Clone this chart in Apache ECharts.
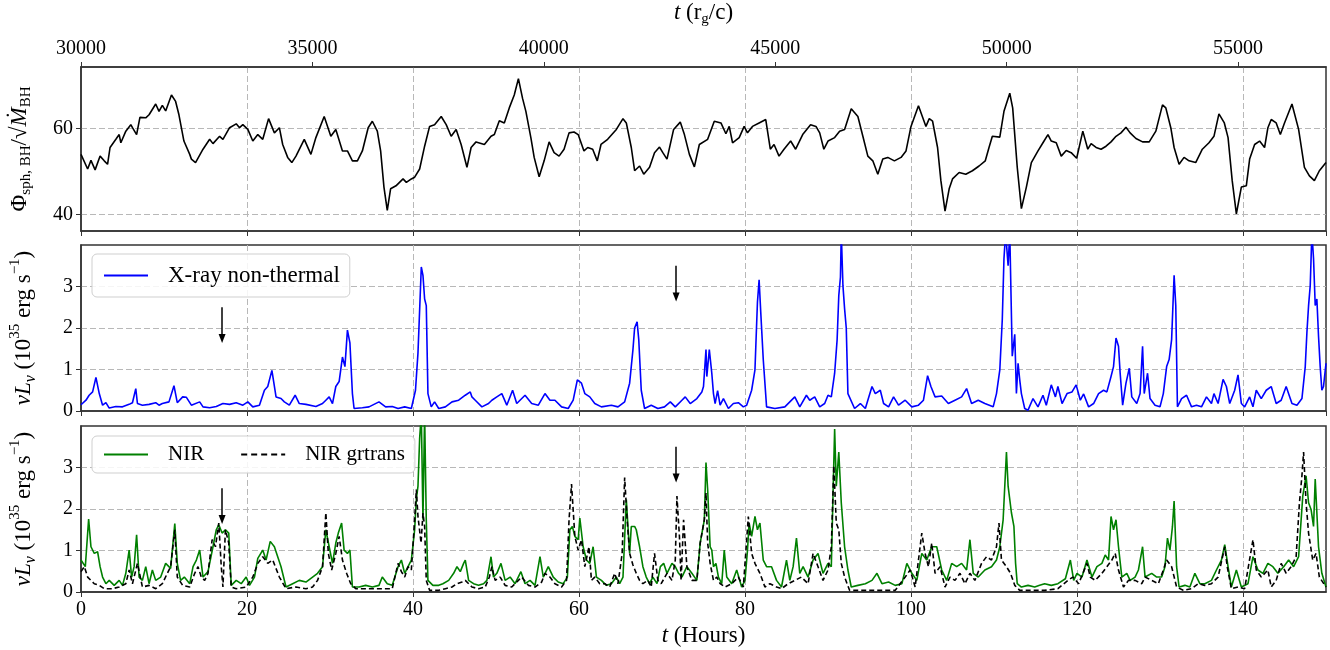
<!DOCTYPE html>
<html><head><meta charset="utf-8">
<script src="https://cdn.jsdelivr.net/npm/echarts@6/dist/echarts.min.js"></script>
<style>html,body{margin:0;padding:0;background:#fff}#c{width:1330px;height:650px}</style>
</head><body><div id="c"></div>
<script>
// ---- data (hours, values) ----
const hourRange = [0, 150];
const hourTicks = 20;
const tStart = 30000;          // r_g/c at hour 0
const tEnd = 56900;            // r_g/c at hour 150
const tTicks = 5000;
const phiLabelTicks = [40, 60];
const phiRange = [36.2, 74.3];
const lumRange = [0, 4];

const phi = [[0,54.0],[0.8,50.6],[1.2,52.6],[1.7,50.4],[2.3,53.6],[2.8,52.5],[3.2,51.7],[3.5,55.6],[4.2,57.5],[4.6,58.6],[4.8,56.7],[5.4,59.4],[6.0,60.9],[6.2,60.2],[6.7,58.6],[7.1,62.6],[7.8,62.5],[8.2,63.2],[9.0,65.7],[9.4,64.0],[9.8,65.4],[10.2,64.1],[10.9,67.8],[11.4,66.3],[11.8,63.2],[12.4,57.1],[13.1,54.0],[13.3,52.9],[13.8,52.1],[14.7,55.2],[15.5,57.5],[15.9,56.5],[16.7,58.2],[17.1,57.5],[17.9,60.2],[18.7,61.1],[19.1,60.2],[19.5,60.9],[20.1,59.8],[20.7,57.1],[21.3,58.6],[21.9,57.5],[22.6,62.3],[23.3,59.0],[23.9,60.2],[24.3,56.3],[24.9,53.3],[25.4,52.1],[25.9,53.6],[26.9,57.5],[27.7,54.0],[28.3,57.9],[29.3,62.8],[30.1,58.2],[30.7,59.8],[31.5,54.8],[32.1,54.8],[32.7,52.5],[33.3,52.5],[33.9,54.8],[34.6,60.2],[35.1,61.7],[35.7,59.4],[36.1,54.8],[36.5,46.4],[36.9,41.0],[37.3,46.0],[37.95,46.7],[38.8,48.3],[39.2,47.5],[39.8,48.3],[40.2,48.7],[40.8,50.6],[41.4,55.9],[42.0,60.5],[42.6,60.9],[43.4,62.8],[44.0,60.9],[44.6,58.2],[45.2,59.8],[45.8,56.3],[46.5,51.0],[47.0,55.6],[47.6,56.9],[48.6,56.3],[49.4,58.2],[49.8,58.6],[50.4,61.8],[51.0,61.3],[51.6,64.8],[52.2,67.8],[52.7,71.6],[53.2,67.0],[53.6,64.0],[54.2,57.9],[54.6,53.3],[55.2,48.8],[55.8,52.5],[56.4,56.9],[57.0,54.4],[57.6,53.6],[58.2,55.2],[58.8,59.0],[59.4,59.2],[59.9,58.6],[60.6,54.8],[61.05,55.6],[61.65,55.2],[62.2,52.5],[62.65,56.3],[63.45,57.5],[64.5,59.8],[65.3,62.3],[65.7,61.3],[66.3,55.6],[66.7,50.2],[67.3,51.3],[67.8,49.4],[68.5,51.0],[69.1,54.4],[69.7,55.7],[70.1,54.4],[70.6,52.9],[71.4,59.8],[72.2,61.5],[72.7,58.6],[73.3,54.0],[73.9,51.1],[74.5,56.3],[75.5,57.5],[76.3,61.7],[77.1,61.3],[77.7,58.8],[78.1,60.5],[78.5,56.7],[79.3,57.9],[79.9,60.5],[80.3,59.0],[80.9,60.5],[81.7,61.3],[82.5,62.1],[83.05,55.2],[83.5,56.3],[84.1,53.6],[84.7,55.2],[85.5,57.1],[86.1,55.2],[86.95,58.6],[87.9,60.9],[88.55,60.5],[89.0,59.0],[89.5,55.2],[90.0,57.1],[90.8,57.9],[91.4,59.4],[92.0,59.8],[92.8,64.6],[93.6,62.8],[94.2,58.2],[94.8,53.6],[95.4,52.5],[96.0,49.4],[96.6,52.9],[97.2,53.3],[98.0,52.5],[98.8,53.3],[99.4,54.8],[100.0,60.5],[100.9,65.3],[101.8,60.5],[102.2,62.3],[102.6,61.7],[103.2,55.6],[103.6,47.9],[104.1,40.8],[104.6,46.0],[105.0,48.3],[105.8,49.8],[106.6,49.4],[107.4,50.2],[108.2,51.3],[108.95,52.5],[109.4,55.6],[109.8,58.2],[110.7,58.0],[111.2,64.0],[111.9,68.2],[112.25,64.8],[112.8,51.0],[113.3,41.4],[113.9,46.4],[114.5,52.1],[115.3,54.8],[115.9,56.7],[116.5,58.6],[116.9,57.1],[117.5,56.7],[118.1,53.6],[118.7,54.9],[119.3,54.4],[119.96,53.1],[120.7,59.4],[121.3,55.2],[121.7,56.5],[122.3,55.6],[122.9,55.2],[123.5,55.9],[124.1,56.9],[124.7,58.2],[125.3,59.0],[125.9,60.3],[126.4,59.0],[127.1,57.7],[127.9,56.9],[128.7,56.9],[129.5,59.4],[130.3,65.5],[130.7,64.8],[131.3,60.2],[131.7,55.6],[132.3,51.7],[132.9,53.3],[133.5,52.5],[134.3,52.1],[135.1,55.2],[135.9,56.7],[136.5,58.2],[137.1,63.4],[137.75,61.3],[138.2,57.9],[138.7,47.9],[139.2,40.2],[139.8,46.4],[140.4,46.7],[140.8,52.9],[141.4,56.3],[142.0,57.1],[142.6,55.6],[143.0,60.2],[143.4,62.1],[144.0,61.3],[144.5,58.6],[145.0,61.3],[145.9,65.7],[146.7,59.8],[147.4,51.0],[148.0,49.0],[148.6,47.9],[149.2,50.2],[150,52.1]];

const xray = [[0,0.15],[0.2,0.14],[0.6,0.26],[0.98,0.38],[1.4,0.46],[1.8,0.81],[2.2,0.42],[2.6,0.14],[3.0,0.20],[3.4,0.07],[4.2,0.11],[5.0,0.10],[5.8,0.16],[6.2,0.20],[6.6,0.54],[6.8,0.18],[7.4,0.14],[8.2,0.16],[9.0,0.20],[9.4,0.14],[9.8,0.18],[10.6,0.22],[11.2,0.61],[11.6,0.20],[12.25,0.34],[12.7,0.33],[13.3,0.14],[14.3,0.22],[14.7,0.10],[15.5,0.08],[16.3,0.11],[17.1,0.18],[17.9,0.16],[18.7,0.20],[19.5,0.14],[20.1,0.22],[20.7,0.10],[21.5,0.14],[22.1,0.50],[22.5,0.59],[23.0,0.98],[23.5,0.34],[24.1,0.30],[24.5,0.22],[25.1,0.14],[25.8,0.38],[26.3,0.18],[27.1,0.16],[28.3,0.11],[29.1,0.18],[29.5,0.26],[29.9,0.34],[30.3,0.18],[30.7,0.59],[31.1,0.71],[31.5,1.30],[31.8,1.07],[32.1,1.95],[32.4,1.64],[32.7,0.42],[32.9,0.06],[33.9,0.08],[34.7,0.10],[35.9,0.22],[36.7,0.10],[37.5,0.11],[38.2,0.06],[39.0,0.10],[39.8,0.06],[40.3,0.50],[40.6,1.40],[41.0,3.47],[41.2,3.27],[41.4,2.70],[41.6,2.54],[41.8,0.42],[42.2,0.10],[42.6,0.22],[43.1,0.06],[43.9,0.10],[44.7,0.22],[45.5,0.26],[46.3,0.38],[46.9,0.46],[47.1,0.34],[47.5,0.26],[48.3,0.10],[49.1,0.18],[49.5,0.26],[50.1,0.34],[50.7,0.42],[51.3,0.14],[52.0,0.50],[52.5,0.18],[53.5,0.38],[54.3,0.18],[55.1,0.14],[55.9,0.42],[56.5,0.26],[57.1,0.26],[57.9,0.10],[58.7,0.06],[59.3,0.26],[59.8,0.75],[60.3,0.67],[60.7,0.42],[61.3,0.34],[61.9,0.18],[62.7,0.10],[63.9,0.14],[64.7,0.10],[65.5,0.22],[66.1,0.67],[66.5,1.48],[66.7,2.0],[67.0,2.15],[67.2,1.72],[67.5,0.50],[67.9,0.06],[68.7,0.14],[69.5,0.06],[70.3,0.10],[71.0,0.22],[71.6,0.10],[72.4,0.26],[72.8,0.34],[73.4,0.18],[74.2,0.30],[74.8,0.46],[75.0,0.59],[75.3,1.48],[75.4,0.83],[75.7,1.48],[76.0,0.91],[76.2,0.42],[76.4,0.18],[76.7,0.49],[77.0,0.14],[77.4,0.30],[78.0,0.06],[78.6,0.18],[79.2,0.20],[79.8,0.10],[80.2,0.14],[80.8,0.50],[81.2,0.99],[81.4,2.09],[81.5,2.62],[81.7,3.16],[81.9,2.37],[82.2,1.24],[82.6,0.10],[83.6,0.06],[84.8,0.10],[85.4,0.22],[86.0,0.34],[86.6,0.10],[87.4,0.38],[87.8,0.26],[88.4,0.34],[89.0,0.10],[89.6,0.18],[90.0,0.38],[90.4,0.34],[90.8,0.91],[91.1,1.72],[91.3,2.78],[91.5,3.23],[91.6,4.3],[91.8,3.02],[92.0,2.46],[92.2,2.0],[92.4,0.42],[93.2,0.06],[93.9,0.18],[94.5,0.06],[95.3,0.59],[95.7,0.42],[96.3,0.50],[96.7,0.18],[97.3,0.10],[97.9,0.34],[98.5,0.14],[99.3,0.26],[100.1,0.10],[100.9,0.14],[101.5,0.26],[102.0,0.85],[102.4,0.59],[102.9,0.34],[103.7,0.36],[104.5,0.18],[105.3,0.26],[106.1,0.34],[106.7,0.54],[107.3,0.18],[108.1,0.26],[108.9,0.18],[109.9,0.10],[110.3,0.42],[110.7,0.99],[111.0,2.21],[111.2,3.67],[111.4,4.3],[111.7,3.5],[111.9,4.3],[112.2,1.32],[112.5,1.85],[112.7,0.42],[112.9,1.15],[113.1,0.75],[113.3,0.42],[113.7,0.06],[114.1,0.02],[114.7,0.30],[115.3,0.10],[115.9,0.38],[116.3,0.14],[116.9,0.63],[117.4,0.34],[117.7,0.59],[118.2,0.18],[118.8,0.42],[119.4,0.46],[119.9,0.63],[120.4,0.26],[120.8,0.41],[121.4,0.10],[122.0,0.18],[122.6,0.42],[123.2,0.50],[123.6,0.46],[124.1,0.83],[124.4,1.07],[124.7,1.76],[125.0,1.56],[125.2,0.91],[125.5,0.14],[125.9,0.67],[126.3,1.03],[126.6,0.34],[127.2,0.18],[127.6,0.42],[127.9,1.56],[128.1,0.42],[128.5,0.91],[128.8,0.30],[129.4,0.14],[130.0,0.10],[130.4,0.42],[130.8,1.07],[131.1,1.24],[131.4,1.72],[131.7,3.27],[131.9,2.54],[132.1,0.10],[132.6,0.30],[133.2,0.38],[133.8,0.10],[134.4,0.14],[135.0,0.10],[135.6,0.34],[136.2,0.18],[136.5,0.42],[137.0,0.18],[137.6,0.76],[138.0,0.59],[138.4,0.18],[139.0,0.50],[139.4,0.87],[139.8,0.18],[140.2,0.10],[140.8,0.34],[141.2,0.10],[141.6,0.50],[142.2,0.30],[142.8,0.50],[143.4,0.59],[144.0,0.18],[144.6,0.26],[145.2,0.59],[145.9,0.18],[146.5,0.14],[147.1,0.30],[147.5,1.07],[147.7,1.89],[147.9,2.54],[148.1,3.02],[148.3,4.3],[148.5,3.67],[148.7,2.54],[148.9,2.70],[149.1,1.80],[149.3,1.07],[149.5,0.50],[149.7,0.59],[150,1.15]];

const nir = [[0,0.77],[0.52,0.61],[0.92,1.76],[1.2,1.09],[1.6,0.93],[2.0,0.97],[2.3,0.61],[2.6,0.36],[3.0,0.20],[3.4,0.28],[4.0,0.16],[4.6,0.28],[5.0,0.16],[5.4,0.45],[5.8,1.01],[6.1,0.36],[6.4,0.61],[6.7,1.38],[7.0,0.36],[7.4,0.28],[7.8,0.61],[8.2,0.20],[8.6,0.53],[9.0,0.28],[9.6,0.36],[10.2,0.69],[10.8,0.57],[11.3,1.65],[11.6,0.69],[12.0,0.28],[12.45,0.36],[13.1,0.20],[13.5,0.61],[13.9,0.77],[14.3,1.01],[14.7,0.36],[15.3,0.49],[15.9,1.09],[16.3,1.50],[16.6,1.62],[17.0,1.42],[17.4,1.50],[17.8,1.42],[18.1,0.16],[18.7,0.28],[19.3,0.20],[19.9,0.36],[20.3,0.16],[20.9,0.36],[21.3,0.81],[21.9,1.01],[22.3,0.77],[22.8,1.22],[23.3,1.09],[23.7,0.85],[24.1,0.61],[24.7,0.12],[25.5,0.20],[26.3,0.28],[27.1,0.24],[27.9,0.36],[28.5,0.45],[29.1,0.61],[29.5,1.50],[29.9,1.09],[30.3,0.69],[30.7,1.18],[31.0,1.42],[31.4,1.66],[31.7,1.01],[32.1,0.93],[32.4,1.01],[32.7,0.12],[33.5,0.12],[34.3,0.16],[35.1,0.12],[35.9,0.16],[36.3,0.36],[36.9,0.20],[37.5,0.16],[38.2,0.61],[38.6,0.77],[39.0,0.45],[39.4,0.61],[39.8,0.77],[40.2,1.50],[40.4,2.23],[40.6,2.55],[40.8,3.70],[41.0,4.3],[41.2,1.74],[41.4,4.3],[41.6,1.74],[41.8,0.28],[42.4,0.16],[43.1,0.16],[43.6,0.20],[44.3,0.28],[44.9,0.45],[45.3,0.61],[45.7,0.49],[46.1,0.69],[46.3,0.77],[46.7,0.28],[47.3,0.20],[47.9,0.16],[48.5,0.20],[48.9,0.28],[49.4,0.85],[49.7,0.36],[50.1,0.45],[50.6,0.69],[51.1,0.28],[51.7,0.36],[52.3,0.20],[53.0,0.49],[53.5,0.20],[54.1,0.28],[54.7,0.16],[55.3,0.85],[55.7,0.36],[56.3,0.61],[56.9,0.36],[57.5,0.24],[58.1,0.20],[58.6,0.36],[58.9,1.50],[59.2,1.58],[59.5,1.34],[59.9,1.26],[60.1,1.78],[60.5,1.09],[60.9,0.77],[61.3,0.69],[61.7,1.09],[62.1,0.36],[62.7,0.28],[63.3,0.16],[63.9,0.20],[64.5,0.36],[64.9,0.20],[65.3,0.36],[65.7,2.23],[66.1,0.93],[66.3,1.58],[66.7,1.58],[66.9,1.50],[67.3,1.09],[67.7,0.61],[68.1,0.36],[68.5,0.20],[68.9,0.36],[69.4,0.20],[69.8,0.61],[70.2,0.69],[70.6,0.45],[71.2,0.69],[71.6,0.61],[72.0,0.45],[72.4,0.36],[73.0,0.61],[73.6,0.45],[74.2,0.28],[74.6,1.18],[75.1,1.74],[75.3,3.12],[75.5,2.47],[75.8,1.09],[76.0,1.01],[76.2,0.61],[76.5,0.69],[76.8,0.36],[77.2,0.20],[77.5,1.01],[77.8,0.36],[78.4,0.20],[79.0,0.53],[79.6,0.12],[80.0,0.28],[80.3,1.01],[80.5,1.66],[80.8,1.34],[81.2,1.82],[81.5,1.50],[81.8,1.66],[82.2,0.77],[82.6,0.61],[83.2,0.61],[83.8,0.28],[84.4,0.12],[85.0,0.77],[85.4,0.28],[85.8,0.61],[86.2,1.30],[86.6,0.45],[87.0,0.61],[87.6,0.36],[88.2,0.77],[88.8,0.93],[89.4,0.45],[90.0,0.69],[90.4,0.61],[90.6,2.31],[90.8,3.93],[91.0,2.55],[91.3,3.37],[91.6,2.15],[92.0,1.09],[92.4,0.53],[92.8,0.12],[93.6,0.16],[94.5,0.20],[95.3,0.28],[95.9,0.45],[96.5,0.20],[97.3,0.24],[98.1,0.16],[98.9,0.20],[99.5,0.69],[100.1,0.45],[100.7,0.28],[101.3,0.93],[101.9,0.77],[102.5,1.09],[103.1,1.09],[103.7,0.53],[104.3,0.28],[104.9,0.69],[105.5,0.61],[106.1,0.69],[106.7,0.53],[107.1,1.26],[107.5,0.45],[108.1,0.36],[108.9,0.53],[109.7,0.61],[110.3,0.77],[110.7,1.09],[111.1,1.74],[111.5,3.37],[111.7,2.55],[112.1,1.91],[112.4,1.58],[112.6,0.69],[112.8,0.20],[113.3,0.12],[114.1,0.16],[114.9,0.12],[115.5,0.16],[116.1,0.20],[116.9,0.16],[117.7,0.20],[118.6,0.32],[119.2,0.77],[119.6,0.28],[120.0,0.45],[120.6,0.36],[121.2,0.77],[121.8,0.36],[122.4,0.61],[123.0,0.69],[123.4,0.89],[123.8,0.77],[124.1,1.82],[124.4,1.50],[124.7,1.74],[125.0,1.09],[125.4,0.36],[126.0,0.45],[126.4,0.28],[127.0,0.36],[127.4,0.53],[127.9,1.09],[128.2,0.36],[129.0,0.45],[129.6,0.36],[130.2,0.36],[130.6,0.61],[130.9,1.30],[131.2,1.01],[131.5,1.58],[131.7,2.19],[132.0,0.61],[132.3,0.12],[133.0,0.16],[133.6,0.12],[134.2,0.45],[134.8,0.20],[135.4,0.20],[136.2,0.28],[136.8,0.53],[137.4,0.77],[137.8,1.14],[138.2,0.61],[138.6,0.12],[139.2,0.53],[139.8,0.12],[140.6,0.20],[141.2,0.85],[141.8,0.53],[142.4,0.45],[143.0,0.69],[143.6,0.61],[144.2,0.45],[144.9,0.61],[145.5,0.77],[146.1,0.61],[146.7,0.85],[147.2,2.31],[147.6,2.80],[147.9,2.15],[148.2,1.99],[148.5,1.58],[148.7,2.72],[149.1,1.09],[149.5,0.45],[150,0.12]];

const grtrans = [[0,0.49],[0.4,0.61],[0.8,0.36],[1.2,0.28],[1.6,0.20],[2.2,0.16],[2.8,0.08],[3.8,0.08],[4.6,0.12],[5.4,0.20],[5.8,0.53],[6.2,0.20],[6.8,0.69],[7.4,0.12],[8.2,0.16],[9.0,0.08],[9.8,0.20],[10.4,0.45],[10.8,0.61],[11.3,1.50],[11.6,0.36],[12.25,0.16],[13.1,0.12],[13.7,0.45],[14.1,0.61],[14.5,0.36],[14.9,0.28],[15.3,0.45],[15.8,1.26],[16.2,1.09],[16.6,1.66],[16.9,0.61],[17.1,0.12],[17.4,1.50],[17.8,1.18],[18.1,0.12],[18.7,0.08],[19.9,0.12],[20.7,0.36],[21.3,0.69],[21.9,0.85],[22.5,0.69],[23.1,0.77],[23.9,0.36],[24.7,0.08],[25.9,0.12],[27.1,0.08],[27.9,0.12],[28.5,0.28],[29.1,0.61],[29.5,1.91],[29.8,0.93],[30.2,0.53],[30.7,0.93],[31.1,1.34],[31.5,0.77],[32.0,0.45],[32.5,0.20],[33.1,0.08],[34.3,0.08],[35.5,0.08],[36.7,0.08],[37.5,0.08],[38.2,0.69],[38.6,0.49],[39.0,0.36],[39.4,0.61],[39.8,0.53],[40.2,1.74],[40.4,2.47],[40.6,1.82],[40.97,1.18],[41.2,1.90],[41.4,1.58],[41.6,0.28],[42.0,0.04],[43.1,0.04],[43.9,0.08],[44.7,0.12],[45.3,0.20],[45.9,0.24],[46.3,0.28],[47.1,0.12],[47.9,0.08],[48.7,0.12],[49.2,0.36],[49.5,0.61],[49.9,0.28],[50.5,0.36],[51.1,0.16],[51.9,0.12],[52.7,0.28],[53.1,0.36],[53.9,0.16],[54.7,0.12],[55.5,0.24],[55.9,0.45],[56.5,0.36],[57.1,0.20],[57.9,0.12],[58.5,0.28],[58.8,1.74],[59.1,2.60],[59.5,1.34],[59.9,1.01],[60.3,1.26],[60.7,0.61],[61.2,1.09],[61.5,0.28],[61.9,0.36],[62.5,0.20],[63.1,0.20],[63.7,0.12],[64.3,0.45],[64.7,0.20],[65.2,0.93],[65.5,2.76],[65.8,1.74],[66.1,0.93],[66.5,0.65],[66.9,0.45],[67.3,0.28],[67.7,0.20],[68.3,0.28],[68.7,0.12],[69.1,0.93],[69.5,0.28],[69.9,0.20],[70.6,0.45],[71.2,0.28],[71.6,0.77],[71.8,2.31],[72.1,1.34],[72.3,0.28],[72.6,1.74],[73.0,0.61],[73.6,0.28],[74.2,0.28],[74.6,1.18],[75.1,1.74],[75.3,2.39],[75.5,1.18],[75.8,0.69],[76.2,0.28],[76.6,0.36],[77.0,0.20],[77.6,0.12],[78.4,0.20],[79.2,0.36],[79.8,0.12],[80.4,1.82],[80.8,0.93],[81.2,0.69],[81.8,0.45],[82.4,0.12],[83.0,0.20],[83.8,0.12],[84.4,0.08],[85.2,0.20],[86.0,0.28],[86.8,0.36],[87.6,0.20],[88.2,0.93],[88.8,0.61],[89.4,0.28],[90.0,0.53],[90.4,1.09],[90.7,3.04],[91.0,1.66],[91.3,1.50],[91.6,0.69],[92.0,0.36],[92.6,0.04],[94.0,0.04],[96.1,0.04],[98.1,0.04],[99.3,0.36],[99.9,0.53],[100.5,0.12],[101.3,1.42],[101.7,0.93],[102.1,0.61],[102.5,1.18],[102.9,0.45],[103.5,0.61],[104.1,0.12],[104.7,0.36],[105.3,0.28],[105.9,0.45],[106.5,0.20],[107.1,0.45],[107.7,0.28],[108.5,0.69],[109.1,0.85],[109.7,0.77],[110.3,1.09],[110.6,1.66],[110.9,0.77],[111.5,0.61],[112.0,0.45],[112.5,0.16],[113.1,0.04],[114.5,0.04],[116.1,0.04],[117.7,0.08],[118.9,0.28],[119.5,0.36],[120.2,0.20],[121.2,0.69],[121.6,0.36],[122.2,0.28],[123.0,0.45],[123.6,0.61],[124.2,0.77],[124.6,0.93],[125.0,0.53],[125.6,0.12],[126.2,0.28],[127.0,0.28],[127.8,0.20],[128.2,0.36],[129.0,0.28],[129.8,0.20],[130.4,0.53],[130.8,0.77],[131.4,0.61],[132.0,0.12],[132.8,0.04],[133.8,0.08],[134.6,0.20],[135.4,0.16],[136.2,0.20],[137.0,0.36],[137.8,1.09],[138.1,0.61],[138.6,0.08],[139.4,0.12],[140.2,0.08],[141.2,1.26],[141.6,0.53],[142.2,0.36],[143.0,0.53],[143.4,0.12],[144.0,0.28],[144.6,0.69],[145.2,0.45],[145.8,0.61],[146.4,0.85],[146.8,2.15],[147.1,2.80],[147.3,3.37],[147.6,2.15],[147.9,1.42],[148.4,0.77],[148.8,0.93],[149.2,0.36],[150,0.12]];

// arrows (hour, from value, to value)
const arrowHours = [17, 71.7];
const arrowFrom = [2.5, 3.5];
const arrowTo = [1.75, 2.75];

// ---- chart ----
const FONT = 'Liberation Serif';
const gridLine = { show: true, lineStyle: { color: '#b8b8b8', type: [6, 3], width: 1 } };
const tickStyle = { show: true, inside: false, length: 5, lineStyle: { color: '#333', width: 1 } };
const axisLineStyle = { show: true, lineStyle: { color: '#333', width: 1.5 } };
const tickLabel = { color: '#000', fontSize: 20, fontFamily: FONT, margin: 8 };

const ICON_SOLID = 'path://M0,0h44v2h-44z';
const ICON_DASH = 'path://M0,0h6v2h-6zM10,0h6v2h-6zM20,0h6v2h-6zM30,0h6v2h-6zM40,0h4v2h-4z';

function arrowMarks() {
  return {
    silent: true, symbol: ['none', 'triangle'], symbolSize: [7, 9], symbolRotate: 180,
    label: { show: false },
    lineStyle: { color: '#000', type: 'solid', width: 1.5 },
    itemStyle: { color: '#1d4f7a' },
    emphasis: { disabled: true },
    data: arrowHours.map((h, i) => [{ coord: [h, arrowFrom[i]] }, { coord: [h, arrowTo[i]] }])
  };
}

const lumName = '{i|νL}{si|ν}{a| (10}{p|35}{a| erg s}{p|−1}{a|)}';
const nameRich = {
  a: { fontSize: 23, fontFamily: FONT, color: '#000' },
  i: { fontSize: 23, fontFamily: FONT, fontStyle: 'italic', color: '#000' },
  s: { fontSize: 15, fontFamily: FONT, color: '#000', padding: [14, 0, 0, 0] },
  si: { fontSize: 16, fontFamily: FONT, fontStyle: 'italic', color: '#000', padding: [14, 0, 0, 0] },
  p: { fontSize: 15, fontFamily: FONT, color: '#000', padding: [0, 0, 16, 0] }
};

const grids = [
  { left: 80, right: 4, top: 65, height: 166 },
  { left: 80, right: 4, top: 245, height: 166 },
  { left: 80, right: 4, top: 426, height: 166 }
].map(g => Object.assign(g, { show: true, borderColor: '#333', borderWidth: 1.5, backgroundColor: 'transparent' }));

function hourAxis(gi, labels) {
  return {
    type: 'value', gridIndex: gi, min: hourRange[0], max: hourRange[1], interval: hourTicks,
    axisLine: axisLineStyle, axisTick: tickStyle,
    axisLabel: Object.assign({}, tickLabel, { show: labels, showMaxLabel: false }),
    splitLine: Object.assign({}, gridLine, { showMinLine: false, showMaxLine: false })
  };
}

const option = {
  animation: false,
  backgroundColor: '#fff',
  textStyle: { fontFamily: FONT },
  grid: grids,
  legend: [
    {
      data: [{ name: 'X-ray non-thermal', icon: ICON_SOLID }], left: 92, top: 254,
      padding: [10, 10, 10, 12], itemWidth: 44, itemHeight: 14,
      backgroundColor: 'rgba(255,255,255,0.85)', borderColor: '#cfcfcf', borderWidth: 1, borderRadius: 5,
      textStyle: { fontSize: 23, fontFamily: FONT, color: '#000', padding: [0, 0, 0, 15] }
    },
    {
      data: [{ name: 'NIR', icon: ICON_SOLID }, { name: 'NIR grtrans', icon: ICON_DASH }], left: 92, top: 436,
      padding: [8, 10, 8, 12], itemWidth: 44, itemHeight: 14, itemGap: 37,
      backgroundColor: 'rgba(255,255,255,0.85)', borderColor: '#cfcfcf', borderWidth: 1, borderRadius: 5,
      textStyle: { fontSize: 21, fontFamily: FONT, color: '#000', padding: [0, 0, 0, 15] }
    }
  ],
  xAxis: [
    hourAxis(0, false),
    {
      type: 'value', gridIndex: 0, position: 'top', min: tStart, max: tEnd, interval: tTicks,
      axisLine: axisLineStyle, axisTick: tickStyle,
      axisLabel: Object.assign({}, tickLabel, { showMaxLabel: false, formatter: v => String(v) }),
      splitLine: { show: false },
      name: '{i|t}{a| (r}{s|g}{a|/c)}', nameLocation: 'middle', nameGap: 40,
      nameTextStyle: { rich: nameRich }
    },
    hourAxis(1, false),
    Object.assign(hourAxis(2, true), {
      name: '{i|t}{a| (Hours)}', nameLocation: 'middle', nameGap: 32,
      nameTextStyle: { rich: nameRich }
    })
  ],
  yAxis: [
    {
      type: 'value', gridIndex: 0, min: phiRange[0], max: phiRange[1],
      axisLine: axisLineStyle,
      axisTick: Object.assign({}, tickStyle, { customValues: phiLabelTicks }),
      axisLabel: Object.assign({}, tickLabel, { customValues: phiLabelTicks }),
      splitLine: gridLine,
      name: '{a|Φ}{s|sph, BH}{a|/√}{i|Ṁ}{s|BH}', nameLocation: 'middle', nameGap: 47, nameRotate: 90,
      nameTextStyle: { rich: nameRich }
    },
    {
      type: 'value', gridIndex: 1, min: lumRange[0], max: lumRange[1], interval: 1,
      axisLine: axisLineStyle, axisTick: tickStyle,
      axisLabel: Object.assign({}, tickLabel, { showMaxLabel: false }),
      splitLine: Object.assign({}, gridLine, { showMinLine: false, showMaxLine: false }),
      name: lumName, nameLocation: 'middle', nameGap: 42, nameRotate: 90,
      nameTextStyle: { rich: nameRich }
    },
    {
      type: 'value', gridIndex: 2, min: lumRange[0], max: lumRange[1], interval: 1,
      axisLine: axisLineStyle, axisTick: tickStyle,
      axisLabel: Object.assign({}, tickLabel, { showMaxLabel: false }),
      splitLine: Object.assign({}, gridLine, { showMinLine: false, showMaxLine: false }),
      name: lumName, nameLocation: 'middle', nameGap: 42, nameRotate: 90,
      nameTextStyle: { rich: nameRich }
    }
  ],
  series: [
    {
      name: 'phi', type: 'line', xAxisIndex: 0, yAxisIndex: 0, data: phi,
      showSymbol: false, symbol: 'none', clip: true,
      lineStyle: { color: '#000', width: 1.6 }, itemStyle: { color: '#000' }
    },
    {
      name: 'X-ray non-thermal', type: 'line', xAxisIndex: 2, yAxisIndex: 1, data: xray,
      showSymbol: false, symbol: 'none', clip: true,
      lineStyle: { color: '#0000ff', width: 1.6 }, itemStyle: { color: '#0000ff' },
      markLine: arrowMarks()
    },
    {
      name: 'NIR', type: 'line', xAxisIndex: 3, yAxisIndex: 2, data: nir,
      showSymbol: false, symbol: 'none', clip: true,
      lineStyle: { color: '#008000', width: 1.6 }, itemStyle: { color: '#008000' }
    },
    {
      name: 'NIR grtrans', type: 'line', xAxisIndex: 3, yAxisIndex: 2, data: grtrans,
      showSymbol: false, symbol: 'none', clip: true,
      lineStyle: { color: '#000', width: 1.6, type: [5, 3] }, itemStyle: { color: '#000' },
      markLine: arrowMarks()
    }
  ]
};

const chart = echarts.init(document.getElementById('c'), null, { renderer: 'canvas' });
chart.setOption(option);
</script>
</body></html>
